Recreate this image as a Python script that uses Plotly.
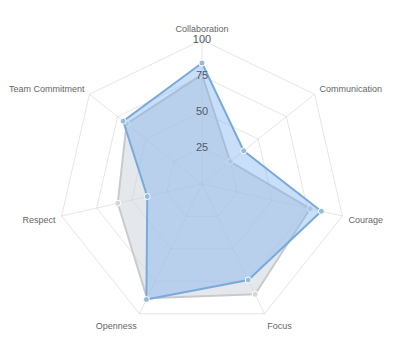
import plotly.graph_objects as go

categories = ["Collaboration", "Communication", "Courage", "Focus", "Openness", "Respect", "Team Commitment"]
grey_values = [76, 25, 77, 85, 88, 60, 67]
blue_values = [84, 37, 85, 74, 89, 39, 70]
tick_values = [25, 50, 75, 100]
tick_labels = ["25", "50", "75", "100"]

def closed(v):
    return list(v) + [v[0]]

fig = go.Figure()
fig.add_trace(go.Scatterpolar(
    r=closed(grey_values), theta=closed(categories), mode="lines+markers",
    fill="toself", fillcolor="rgba(205,212,221,0.55)",
    line=dict(color="rgba(200,202,205,1)", width=2),
    marker=dict(size=6, color="rgba(214,214,214,1)", line=dict(color="white", width=1)),
    showlegend=False, hoverinfo="skip",
))
fig.add_trace(go.Scatterpolar(
    r=closed(blue_values), theta=closed(categories), mode="lines+markers",
    fill="toself", fillcolor="rgba(120,175,240,0.4)",
    line=dict(color="rgba(122,170,220,1)", width=2),
    marker=dict(size=6, color="rgba(150,188,216,1)", line=dict(color="white", width=1)),
    showlegend=False, hoverinfo="skip",
))
fig.add_trace(go.Scatterpolar(
    r=tick_values, theta=[categories[0]] * len(tick_values), mode="text",
    text=tick_labels, textposition="middle center",
    textfont=dict(family="Liberation Sans, Arial, sans-serif", size=11, color="#555a66"),
    showlegend=False, hoverinfo="skip",
))

fig.update_layout(
    width=400, height=351,
    margin=dict(l=58, r=54, t=40, b=23),
    paper_bgcolor="white", plot_bgcolor="white",
    font=dict(family="Liberation Sans, Arial, sans-serif", size=9, color="#666666"),
    polar=dict(
        bgcolor="white",
        gridshape="linear",
        radialaxis=dict(range=[0, 100], tickvals=tick_values, showticklabels=False,
                        showline=False, ticks="", gridcolor="rgba(0,0,0,0.1)", gridwidth=1),
        angularaxis=dict(direction="clockwise", rotation=90, showline=True,
                         linecolor="rgba(0,0,0,0.1)", gridcolor="rgba(0,0,0,0.1)",
                         ticks="outside", ticklen=4, tickcolor="rgba(0,0,0,0)",
                         tickfont=dict(size=9, color="#666666")),
    ),
)
fig.write_html("out.html")
